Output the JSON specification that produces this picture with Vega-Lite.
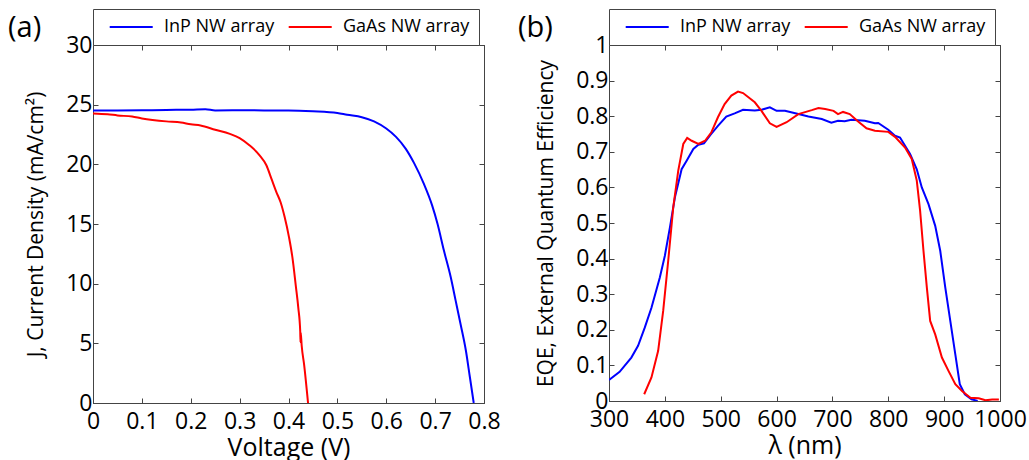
{
  "$schema": "https://vega.github.io/schema/vega-lite/v6.json",
  "padding": {"left": 7, "top": 8, "right": 0, "bottom": 0},
  "background": "white",
  "datasets": {
    "jv": [
      {"V": 0, "J": 24.5, "s": "InP NW array"},
      {"V": 0.05, "J": 24.52, "s": "InP NW array"},
      {"V": 0.1, "J": 24.53, "s": "InP NW array"},
      {"V": 0.15, "J": 24.56, "s": "InP NW array"},
      {"V": 0.2, "J": 24.58, "s": "InP NW array"},
      {"V": 0.23, "J": 24.62, "s": "InP NW array"},
      {"V": 0.25, "J": 24.52, "s": "InP NW array"},
      {"V": 0.3, "J": 24.53, "s": "InP NW array"},
      {"V": 0.35, "J": 24.52, "s": "InP NW array"},
      {"V": 0.4, "J": 24.52, "s": "InP NW array"},
      {"V": 0.45, "J": 24.45, "s": "InP NW array"},
      {"V": 0.5, "J": 24.3, "s": "InP NW array"},
      {"V": 0.52, "J": 24.15, "s": "InP NW array"},
      {"V": 0.55, "J": 23.95, "s": "InP NW array"},
      {"V": 0.575, "J": 23.6, "s": "InP NW array"},
      {"V": 0.6, "J": 23.0, "s": "InP NW array"},
      {"V": 0.62, "J": 22.3, "s": "InP NW array"},
      {"V": 0.64, "J": 21.3, "s": "InP NW array"},
      {"V": 0.657, "J": 20.1, "s": "InP NW array"},
      {"V": 0.677, "J": 18.36, "s": "InP NW array"},
      {"V": 0.694, "J": 16.54, "s": "InP NW array"},
      {"V": 0.705, "J": 15.0, "s": "InP NW array"},
      {"V": 0.718, "J": 12.77, "s": "InP NW array"},
      {"V": 0.732, "J": 10.53, "s": "InP NW array"},
      {"V": 0.742, "J": 8.58, "s": "InP NW array"},
      {"V": 0.752, "J": 6.62, "s": "InP NW array"},
      {"V": 0.763, "J": 4.38, "s": "InP NW array"},
      {"V": 0.771, "J": 2.2, "s": "InP NW array"},
      {"V": 0.779, "J": 0, "s": "InP NW array"},
      {"V": 0, "J": 24.27, "s": "GaAs NW array"},
      {"V": 0.03, "J": 24.2, "s": "GaAs NW array"},
      {"V": 0.05, "J": 24.1, "s": "GaAs NW array"},
      {"V": 0.08, "J": 24.0, "s": "GaAs NW array"},
      {"V": 0.1, "J": 23.85, "s": "GaAs NW array"},
      {"V": 0.15, "J": 23.6, "s": "GaAs NW array"},
      {"V": 0.18, "J": 23.5, "s": "GaAs NW array"},
      {"V": 0.2, "J": 23.35, "s": "GaAs NW array"},
      {"V": 0.22, "J": 23.25, "s": "GaAs NW array"},
      {"V": 0.25, "J": 22.9, "s": "GaAs NW array"},
      {"V": 0.28, "J": 22.55, "s": "GaAs NW array"},
      {"V": 0.3, "J": 22.2, "s": "GaAs NW array"},
      {"V": 0.32, "J": 21.6, "s": "GaAs NW array"},
      {"V": 0.34, "J": 20.8, "s": "GaAs NW array"},
      {"V": 0.355, "J": 19.9, "s": "GaAs NW array"},
      {"V": 0.365, "J": 18.8, "s": "GaAs NW array"},
      {"V": 0.375, "J": 17.7, "s": "GaAs NW array"},
      {"V": 0.384, "J": 16.8, "s": "GaAs NW array"},
      {"V": 0.392, "J": 15.6, "s": "GaAs NW array"},
      {"V": 0.401, "J": 13.9, "s": "GaAs NW array"},
      {"V": 0.408, "J": 12.2, "s": "GaAs NW array"},
      {"V": 0.415, "J": 9.8, "s": "GaAs NW array"},
      {"V": 0.42, "J": 8.0, "s": "GaAs NW array"},
      {"V": 0.424, "J": 6.0, "s": "GaAs NW array"},
      {"V": 0.4245, "J": 5.1, "s": "GaAs NW array"},
      {"V": 0.425, "J": 5.9, "s": "GaAs NW array"},
      {"V": 0.427, "J": 4.8, "s": "GaAs NW array"},
      {"V": 0.432, "J": 3.2, "s": "GaAs NW array"},
      {"V": 0.44, "J": 0, "s": "GaAs NW array"}
    ],
    "eqe": [
      {"wl": 300, "q": 0.059, "s": "InP NW array"},
      {"wl": 319, "q": 0.082, "s": "InP NW array"},
      {"wl": 340, "q": 0.122, "s": "InP NW array"},
      {"wl": 352, "q": 0.155, "s": "InP NW array"},
      {"wl": 364, "q": 0.206, "s": "InP NW array"},
      {"wl": 376, "q": 0.262, "s": "InP NW array"},
      {"wl": 391, "q": 0.347, "s": "InP NW array"},
      {"wl": 400, "q": 0.408, "s": "InP NW array"},
      {"wl": 409, "q": 0.487, "s": "InP NW array"},
      {"wl": 418, "q": 0.572, "s": "InP NW array"},
      {"wl": 430, "q": 0.651, "s": "InP NW array"},
      {"wl": 439, "q": 0.675, "s": "InP NW array"},
      {"wl": 451, "q": 0.708, "s": "InP NW array"},
      {"wl": 460, "q": 0.72, "s": "InP NW array"},
      {"wl": 470, "q": 0.724, "s": "InP NW array"},
      {"wl": 483, "q": 0.75, "s": "InP NW array"},
      {"wl": 495, "q": 0.773, "s": "InP NW array"},
      {"wl": 510, "q": 0.799, "s": "InP NW array"},
      {"wl": 525, "q": 0.808, "s": "InP NW array"},
      {"wl": 540, "q": 0.818, "s": "InP NW array"},
      {"wl": 561, "q": 0.816, "s": "InP NW array"},
      {"wl": 573, "q": 0.818, "s": "InP NW array"},
      {"wl": 588, "q": 0.825, "s": "InP NW array"},
      {"wl": 600, "q": 0.815, "s": "InP NW array"},
      {"wl": 615, "q": 0.815, "s": "InP NW array"},
      {"wl": 639, "q": 0.806, "s": "InP NW array"},
      {"wl": 657, "q": 0.799, "s": "InP NW array"},
      {"wl": 681, "q": 0.792, "s": "InP NW array"},
      {"wl": 698, "q": 0.782, "s": "InP NW array"},
      {"wl": 710, "q": 0.787, "s": "InP NW array"},
      {"wl": 722, "q": 0.786, "s": "InP NW array"},
      {"wl": 734, "q": 0.79, "s": "InP NW array"},
      {"wl": 758, "q": 0.787, "s": "InP NW array"},
      {"wl": 776, "q": 0.78, "s": "InP NW array"},
      {"wl": 782, "q": 0.781, "s": "InP NW array"},
      {"wl": 800, "q": 0.762, "s": "InP NW array"},
      {"wl": 812, "q": 0.745, "s": "InP NW array"},
      {"wl": 821, "q": 0.74, "s": "InP NW array"},
      {"wl": 839, "q": 0.694, "s": "InP NW array"},
      {"wl": 851, "q": 0.651, "s": "InP NW array"},
      {"wl": 860, "q": 0.6, "s": "InP NW array"},
      {"wl": 872, "q": 0.553, "s": "InP NW array"},
      {"wl": 884, "q": 0.492, "s": "InP NW array"},
      {"wl": 893, "q": 0.422, "s": "InP NW array"},
      {"wl": 902, "q": 0.319, "s": "InP NW array"},
      {"wl": 911, "q": 0.225, "s": "InP NW array"},
      {"wl": 920, "q": 0.131, "s": "InP NW array"},
      {"wl": 928, "q": 0.047, "s": "InP NW array"},
      {"wl": 937, "q": 0.019, "s": "InP NW array"},
      {"wl": 949, "q": 0.005, "s": "InP NW array"},
      {"wl": 960, "q": 0, "s": "InP NW array"},
      {"wl": 363, "q": 0.019, "s": "GaAs NW array"},
      {"wl": 376, "q": 0.066, "s": "GaAs NW array"},
      {"wl": 388, "q": 0.141, "s": "GaAs NW array"},
      {"wl": 397, "q": 0.253, "s": "GaAs NW array"},
      {"wl": 406, "q": 0.394, "s": "GaAs NW array"},
      {"wl": 415, "q": 0.544, "s": "GaAs NW array"},
      {"wl": 424, "q": 0.647, "s": "GaAs NW array"},
      {"wl": 433, "q": 0.722, "s": "GaAs NW array"},
      {"wl": 440, "q": 0.739, "s": "GaAs NW array"},
      {"wl": 448, "q": 0.731, "s": "GaAs NW array"},
      {"wl": 460, "q": 0.722, "s": "GaAs NW array"},
      {"wl": 472, "q": 0.731, "s": "GaAs NW array"},
      {"wl": 483, "q": 0.754, "s": "GaAs NW array"},
      {"wl": 495, "q": 0.797, "s": "GaAs NW array"},
      {"wl": 507, "q": 0.834, "s": "GaAs NW array"},
      {"wl": 519, "q": 0.858, "s": "GaAs NW array"},
      {"wl": 531, "q": 0.869, "s": "GaAs NW array"},
      {"wl": 540, "q": 0.865, "s": "GaAs NW array"},
      {"wl": 561, "q": 0.839, "s": "GaAs NW array"},
      {"wl": 573, "q": 0.815, "s": "GaAs NW array"},
      {"wl": 588, "q": 0.78, "s": "GaAs NW array"},
      {"wl": 600, "q": 0.77, "s": "GaAs NW array"},
      {"wl": 618, "q": 0.783, "s": "GaAs NW array"},
      {"wl": 639, "q": 0.806, "s": "GaAs NW array"},
      {"wl": 663, "q": 0.817, "s": "GaAs NW array"},
      {"wl": 675, "q": 0.823, "s": "GaAs NW array"},
      {"wl": 687, "q": 0.82, "s": "GaAs NW array"},
      {"wl": 702, "q": 0.815, "s": "GaAs NW array"},
      {"wl": 710, "q": 0.806, "s": "GaAs NW array"},
      {"wl": 719, "q": 0.812, "s": "GaAs NW array"},
      {"wl": 731, "q": 0.806, "s": "GaAs NW array"},
      {"wl": 746, "q": 0.785, "s": "GaAs NW array"},
      {"wl": 761, "q": 0.766, "s": "GaAs NW array"},
      {"wl": 776, "q": 0.759, "s": "GaAs NW array"},
      {"wl": 800, "q": 0.756, "s": "GaAs NW array"},
      {"wl": 812, "q": 0.742, "s": "GaAs NW array"},
      {"wl": 830, "q": 0.712, "s": "GaAs NW array"},
      {"wl": 842, "q": 0.68, "s": "GaAs NW array"},
      {"wl": 851, "q": 0.619, "s": "GaAs NW array"},
      {"wl": 857, "q": 0.534, "s": "GaAs NW array"},
      {"wl": 863, "q": 0.422, "s": "GaAs NW array"},
      {"wl": 869, "q": 0.319, "s": "GaAs NW array"},
      {"wl": 875, "q": 0.225, "s": "GaAs NW array"},
      {"wl": 884, "q": 0.187, "s": "GaAs NW array"},
      {"wl": 896, "q": 0.122, "s": "GaAs NW array"},
      {"wl": 908, "q": 0.084, "s": "GaAs NW array"},
      {"wl": 920, "q": 0.047, "s": "GaAs NW array"},
      {"wl": 932, "q": 0.028, "s": "GaAs NW array"},
      {"wl": 947, "q": 0.009, "s": "GaAs NW array"},
      {"wl": 962, "q": 0.0075, "s": "GaAs NW array"},
      {"wl": 974, "q": 0.002, "s": "GaAs NW array"},
      {"wl": 986, "q": 0.004, "s": "GaAs NW array"},
      {"wl": 998, "q": 0.004, "s": "GaAs NW array"}
    ]
  },
  "hconcat": [
    {
      "width": 391,
      "height": 358,
      "title": {"text": "(a)", "anchor": "start", "frame": "group", "dx": -85, "dy": 38, "fontSize": 29, "fontWeight": "normal", "font": "Open Sans", "color": "black"},
      "data": {"name": "jv"},
      "layer": [
        {
          "mark": {"type": "line", "strokeWidth": 2, "clip": true, "interpolate": "monotone"},
          "encoding": {
            "x": {"field": "V", "type": "quantitative", "scale": {"domain": [0, 0.8], "nice": false}, "axis": {"title": "Voltage (V)", "values": [0, 0.1, 0.2, 0.3, 0.4, 0.5, 0.6, 0.7, 0.8], "format": ".1~f"}},
            "y": {"field": "J", "type": "quantitative", "scale": {"domain": [0, 30], "nice": false}, "axis": {"title": "J, Current Density (mA/cm²)", "values": [0, 5, 10, 15, 20, 25, 30]}},
            "color": {"field": "s", "type": "nominal", "scale": {"domain": ["InP NW array", "GaAs NW array"], "range": ["#0000ff", "#ff0000"]}, "legend": {"title": null}}
          }
        },
        {
          "mark": {"type": "line", "opacity": 0},
          "encoding": {
            "x": {"field": "V", "type": "quantitative", "axis": {"orient": "top", "labels": false, "title": null, "values": [0, 0.1, 0.2, 0.3, 0.4, 0.5, 0.6, 0.7, 0.8]}},
            "y": {"field": "J", "type": "quantitative", "axis": {"orient": "right", "labels": false, "title": null, "values": [0, 5, 10, 15, 20, 25, 30]}}
          }
        }
      ],
      "resolve": {"axis": {"x": "independent", "y": "independent"}}
    },
    {
      "width": 391,
      "height": 356,
      "title": {"text": "(b)", "anchor": "start", "frame": "group", "dx": -91, "dy": 38, "fontSize": 29, "fontWeight": "normal", "font": "Open Sans", "color": "black"},
      "data": {"name": "eqe"},
      "layer": [
        {
          "mark": {"type": "line", "strokeWidth": 2, "clip": true},
          "encoding": {
            "x": {"field": "wl", "type": "quantitative", "scale": {"domain": [300, 1000], "nice": false}, "axis": {"title": "λ (nm)", "values": [300, 400, 500, 600, 700, 800, 900, 1000], "format": "d"}},
            "y": {"field": "q", "type": "quantitative", "scale": {"domain": [0, 1], "nice": false}, "axis": {"title": "EQE, External Quantum Efficiency", "values": [0, 0.1, 0.2, 0.3, 0.4, 0.5, 0.6, 0.7, 0.8, 0.9, 1], "format": ".1~f"}},
            "color": {"field": "s", "type": "nominal", "scale": {"domain": ["InP NW array", "GaAs NW array"], "range": ["#0000ff", "#ff0000"]}, "legend": {"title": null}}
          }
        },
        {
          "mark": {"type": "line", "opacity": 0},
          "encoding": {
            "x": {"field": "wl", "type": "quantitative", "axis": {"orient": "top", "labels": false, "title": null, "values": [300, 400, 500, 600, 700, 800, 900, 1000]}},
            "y": {"field": "q", "type": "quantitative", "axis": {"orient": "right", "labels": false, "title": null, "values": [0, 0.1, 0.2, 0.3, 0.4, 0.5, 0.6, 0.7, 0.8, 0.9, 1]}}
          }
        }
      ],
      "resolve": {"axis": {"x": "independent", "y": "independent"}}
    }
  ],
  "spacing": 125,
  "bounds": "flush",
  "resolve": {"scale": {"color": "independent"}},
  "config": {
    "font": "Open Sans",
    "view": {"stroke": "#444"},
    "axis": {
      "grid": false,
      "domainColor": "#444",
      "tickColor": "#444",
      "tickSize": -5,
      "labelFont": "Open Sans",
      "labelFontSize": 23,
      "labelColor": "black",
      "labelPadding": 6,
      "labelFlush": false,
      "labelOverlap": false,
      "titleFont": "Open Sans",
      "titleFontSize": 21,
      "titleFontWeight": "normal",
      "titleColor": "black"
    },
    "axisX": {"labelPadding": 12, "titleFontSize": 25, "titlePadding": 2},
    "axisY": {"titlePadding": 19},
    "legend": {
      "orient": "none",
      "legendX": 0,
      "legendY": -36,
      "direction": "horizontal",
      "strokeColor": "#444",
      "fillColor": "white",
      "padding": 9,
      "symbolType": "M-0.3,0H9.7",
      "symbolSize": 74,
      "symbolStrokeWidth": 2,
      "labelFont": "Open Sans",
      "labelFontSize": 18,
      "labelColor": "black",
      "labelOffset": 44,
      "columnPadding": 6
    }
  }
}
